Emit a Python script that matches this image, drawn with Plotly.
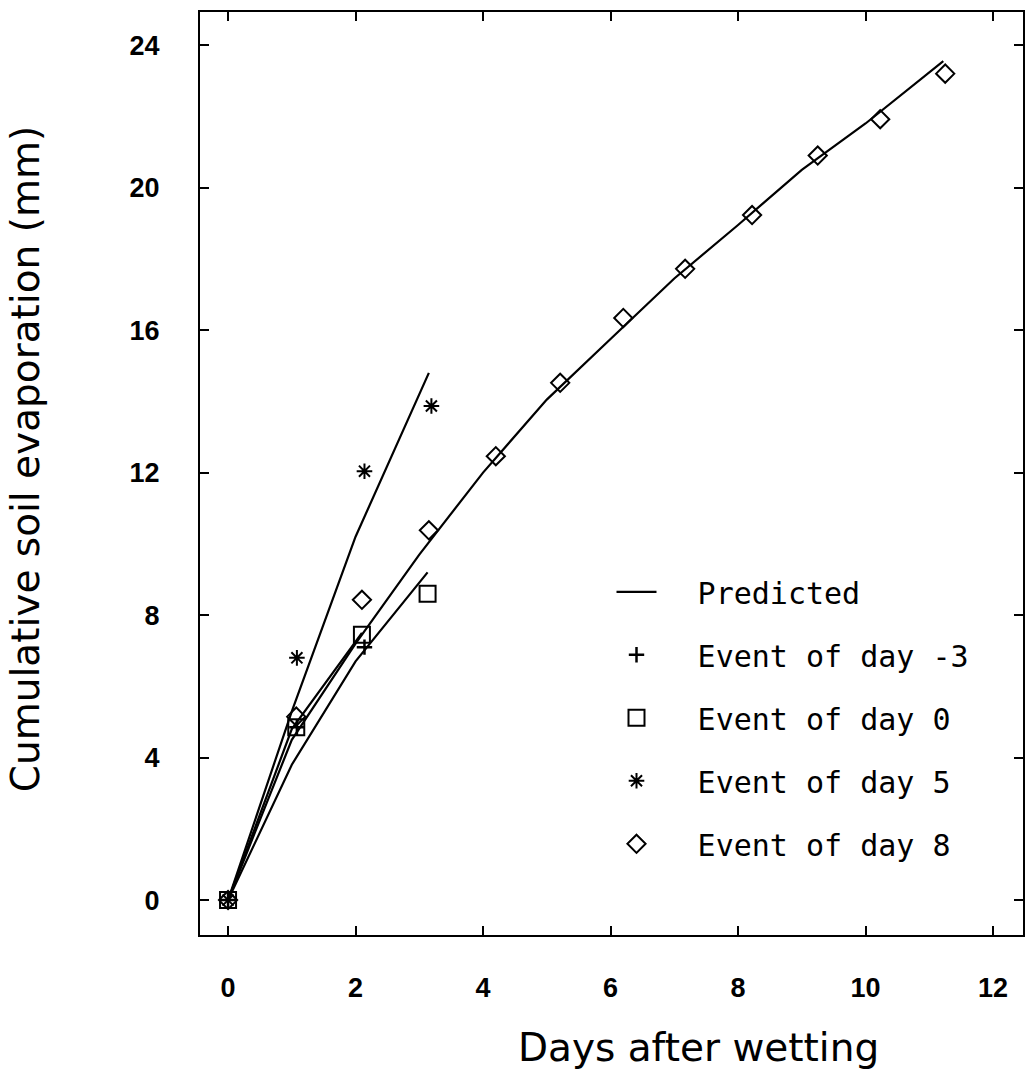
import plotly.graph_objects as go

# ---- Data ----
pred_day5_x = [0, 1, 2, 3.15]
pred_day5_y = [0, 5.3, 10.2, 14.8]

pred_day8_x = [0, 1, 2, 3, 4, 5, 6, 7, 8, 9, 10, 11.22]
pred_day8_y = [0, 4.5, 7.2, 9.7, 12.0, 14.05, 15.75, 17.45, 18.95, 20.5, 21.8, 23.55]

pred_day0_x = [0, 1, 2, 3.13]
pred_day0_y = [0, 3.8, 6.7, 9.2]

pred_daym3_x = [0, 1, 2.1]
pred_daym3_y = [0, 4.8, 7.5]

obs_daym3_x = [0, 1.08, 2.14]
obs_daym3_y = [0, 4.85, 7.1]

obs_day0_x = [0, 1.07, 2.1, 3.13]
obs_day0_y = [0, 4.85, 7.45, 8.6]

obs_day5_x = [0, 1.08, 2.14, 3.19]
obs_day5_y = [0, 6.8, 12.04, 13.87]

obs_day8_x = [0, 1.07, 2.1, 3.15, 4.2, 5.21, 6.2, 7.17, 8.22, 9.25, 10.23, 11.25]
obs_day8_y = [0, 5.15, 8.43, 10.38, 12.46, 14.52, 16.34, 17.72, 19.23, 20.9, 21.92, 23.2]

x_ticks = [0, 2, 4, 6, 8, 10, 12]
y_ticks = [0, 4, 8, 12, 16, 20, 24]

x_title = "Days after wetting"
y_title = "Cumulative soil evaporation (mm)"

NB = "\u00a0"
LEG_FONT = dict(family="DejaVu Sans Mono", size=30, color="black")
TITLE_FONT = dict(family="DejaVu Sans", size=39, color="black")

fig = go.Figure()

line_style = dict(color="black", width=2.2)
fig.add_trace(go.Scatter(x=pred_day5_x, y=pred_day5_y, mode="lines", line=line_style,
                         name=NB * 2 + "Predicted", legendgroup="pred", showlegend=True))
for xs, ys in [(pred_day8_x, pred_day8_y), (pred_day0_x, pred_day0_y), (pred_daym3_x, pred_daym3_y)]:
    fig.add_trace(go.Scatter(x=xs, y=ys, mode="lines", line=line_style,
                             legendgroup="pred", showlegend=False))

mk_line = dict(color="black", width=2)
fig.add_trace(go.Scatter(x=obs_daym3_x, y=obs_daym3_y, mode="markers", name=NB * 2 + "Event of day -3",
                         legendgroup="m3",
                         marker=dict(symbol="cross-thin-open", size=11, color="black",
                                     line=dict(color="black", width=2.5))))
fig.add_trace(go.Scatter(x=obs_day0_x, y=obs_day0_y, mode="markers", name=NB * 2 + "Event of day 0",
                         legendgroup="d0",
                         marker=dict(symbol="square-open", size=16, color="black", line=mk_line)))
fig.add_trace(go.Scatter(x=obs_day5_x, y=obs_day5_y, mode="markers", name=NB * 2 + "Event of day 5",
                         legendgroup="d5",
                         marker=dict(symbol="asterisk-open", size=13, color="black", line=mk_line)))
fig.add_trace(go.Scatter(x=obs_day8_x, y=obs_day8_y, mode="markers", name=NB * 2 + "Event of day 8",
                         legendgroup="d8",
                         marker=dict(symbol="diamond-open", size=14, color="black", line=mk_line)))

axis_common = dict(
    showgrid=False, zeroline=False, showline=True, linecolor="black", linewidth=2,
    mirror="ticks", ticks="inside", ticklen=9, tickwidth=2, tickcolor="black",
    tickfont=dict(family="Liberation Sans", size=27, color="black", weight="bold"),
)

fig.update_layout(
    width=1035, height=1086,
    margin=dict(l=200, r=10, t=10, b=151),
    paper_bgcolor="white", plot_bgcolor="white",
    xaxis=dict(range=[-0.44, 12.47], tickvals=x_ticks, ticktext=[str(v) for v in x_ticks],
               ticklabelstandoff=28, **axis_common),
    yaxis=dict(range=[-0.98, 24.93], tickvals=y_ticks, ticktext=[str(v) for v in y_ticks],
               ticklabelstandoff=33, **axis_common),
    legend=dict(x=0.50, y=0.40, xanchor="left", yanchor="top", bgcolor="rgba(0,0,0,0)",
                font=LEG_FONT, tracegroupgap=21, itemwidth=40),
    showlegend=True,
    annotations=[
        dict(text=x_title, xref="paper", yref="paper", x=0.606, y=-0.122,
             xanchor="center", yanchor="middle", showarrow=False, font=TITLE_FONT),
        dict(text=y_title, xref="paper", yref="paper", x=-0.212, y=0.515, textangle=-90,
             xanchor="center", yanchor="middle", showarrow=False, font=TITLE_FONT),
    ],
)

fig.write_html("out.html")
